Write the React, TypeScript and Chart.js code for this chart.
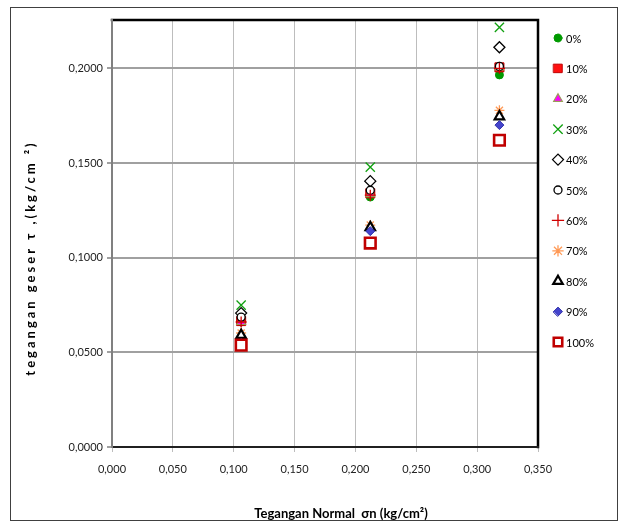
import React, { useEffect, useRef } from 'react';
import { Chart, registerables } from 'chart.js';
import { drawPoint } from 'chart.js/helpers';

Chart.register(...registerables);

// ---- data ----
const normalStress = [0.1061, 0.2122, 0.3183];
const seriesLabels = ['0%', '10%', '20%', '30%', '40%', '50%', '60%', '70%', '80%', '90%', '100%'];
const s0 = [0.0660, 0.1320, 0.1965];
const s10 = [0.0665, 0.1340, 0.2005];
const s20 = [0.0660, 0.1335, 0.2005];
const s30 = [0.0749, 0.1478, 0.2216];
const s40 = [0.0707, 0.1404, 0.2111];
const s50 = [0.0686, 0.1356, 0.2010];
const s60 = [0.0660, 0.1330, 0.2000];
const s70 = [0.0602, 0.1172, 0.1778];
const s80 = [0.0591, 0.1160, 0.1745];
const s90 = [0.0549, 0.1140, 0.1700];
const s100 = [0.0538, 0.1077, 0.1620];
const seriesValues = [s0, s10, s20, s30, s40, s50, s60, s70, s80, s90, s100];

const xMin = 0, xMax = 0.35, xStep = 0.05;
const yMin = 0, yMax = 0.2255, yStep = 0.05;

const yTitle = 'tegangan geser τ ,(kg/cm ²)';
const xTitle = 'Tegangan Normal  σn (kg/cm²)';

// ---- styles ----
const markerStyles = [
  { pointStyle: 'circle', radius: 4, bg: '#009a00', border: '#009a00', bw: 1 },
  { pointStyle: 'rect', radius: 6.4, bg: '#ff1010', border: '#c00000', bw: 1 },
  { pointStyle: 'triangle', radius: 5, bg: '#ff00ff', border: '#9b9b5a', bw: 1.2 },
  { pointStyle: 'crossRot', radius: 6.5, bg: 'rgba(0,0,0,0)', border: '#10a010', bw: 1.3 },
  { pointStyle: 'rectRot', radius: 5.5, bg: '#ffffff', border: '#000000', bw: 1.3 },
  { pointStyle: 'circle', radius: 4, bg: '#ffffff', border: '#000000', bw: 1.3 },
  { pointStyle: 'cross', radius: 5.5, bg: 'rgba(0,0,0,0)', border: '#d00000', bw: 1.3 },
  { pointStyle: 'star', radius: 5, bg: 'rgba(0,0,0,0)', border: '#ff9955', bw: 1.3 },
  { pointStyle: 'triangle', radius: 5.5, bg: '#ffffff', border: '#000000', bw: 2.2 },
  { pointStyle: 'rectRot', radius: 4.5, bg: '#4444cc', border: '#3333aa', bw: 1 },
  { pointStyle: 'rect', radius: 7.5, bg: '#ffffff', border: '#c00000', bw: 2.6 },
];

const FONT = 'Lato, "Liberation Sans", sans-serif';

const decorPlugin = {
  id: 'decor',
  afterDraw(chart: any) {
    const ctx = chart.ctx as CanvasRenderingContext2D;
    const a = chart.chartArea;
    ctx.save();
    // outer chart frame
    ctx.strokeStyle = '#404040';
    ctx.lineWidth = 1;
    ctx.strokeRect(10.5, 7.5, 607, 513);
    // plot frame
    ctx.lineCap = 'square';
    ctx.strokeStyle = '#000000';
    ctx.lineWidth = 2.5;
    ctx.beginPath();
    ctx.moveTo(a.left, a.top);
    ctx.lineTo(a.right, a.top);
    ctx.lineTo(a.right, a.bottom);
    ctx.stroke();
    ctx.lineWidth = 2;
    ctx.strokeStyle = '#202020';
    ctx.beginPath();
    ctx.moveTo(a.left, a.bottom);
    ctx.lineTo(a.right, a.bottom);
    ctx.stroke();
    ctx.strokeStyle = '#808080';
    ctx.beginPath();
    ctx.moveTo(a.left, a.top);
    ctx.lineTo(a.left, a.bottom);
    ctx.stroke();

    // axis titles
    ctx.fillStyle = '#000000';
    ctx.font = `bold 13px ${FONT}`;
    ctx.textAlign = 'center';
    ctx.textBaseline = 'middle';
    (ctx as any).letterSpacing = '0px';
    ctx.fillText(xTitle, 341, 514);
    ctx.save();
    ctx.translate(31, 258);
    ctx.rotate(-Math.PI / 2);
    (ctx as any).letterSpacing = '3px';
    ctx.fillText(yTitle, 0, 0);
    ctx.restore();
    (ctx as any).letterSpacing = '0px';

    // legend
    const lx = 558, ly0 = 38, dy = 30.4;
    ctx.font = `11px ${FONT}`;
    ctx.textAlign = 'left';
    seriesLabels.forEach((lab, i) => {
      const st = markerStyles[i];
      const y = ly0 + i * dy;
      ctx.fillStyle = st.bg;
      ctx.strokeStyle = st.border;
      ctx.lineWidth = st.bw;
      drawPoint(ctx, { pointStyle: st.pointStyle as any, radius: Math.min(st.radius, 6), rotation: 0, borderWidth: st.bw }, lx, y);
      ctx.fillStyle = '#000000';
      ctx.fillText(lab, lx + 8, y + 1);
    });
    ctx.restore();
  },
};

export default function App() {
  const ref = useRef<HTMLCanvasElement | null>(null);
  useEffect(() => {
    document.body.style.margin = '0';
    if (!ref.current) return;
    const datasets = seriesLabels.map((lab, i) => ({
      label: lab,
      data: normalStress.map((x, j) => ({ x, y: seriesValues[i][j] })),
      pointStyle: markerStyles[i].pointStyle as any,
      pointRadius: markerStyles[i].radius,
      pointBackgroundColor: markerStyles[i].bg,
      pointBorderColor: markerStyles[i].border,
      pointBorderWidth: markerStyles[i].bw,
      showLine: false,
      order: seriesLabels.length - i,
    }));
    const chart = new Chart(ref.current, {
      type: 'scatter',
      data: { datasets },
      options: {
        animation: false,
        responsive: false,
        maintainAspectRatio: false,
        layout: { padding: { left: 0, right: 87, top: 20, bottom: 0 } },
        plugins: { legend: { display: false }, tooltip: { enabled: false } },
        scales: {
          x: {
            type: 'linear',
            min: xMin,
            max: xMax,
            afterFit: (s: any) => { s.height = 77; },
            border: { display: false },
            grid: { color: '#bdbdbd', lineWidth: 1, tickLength: 5, drawTicks: true },
            ticks: {
              stepSize: xStep,
              includeBounds: false,
              padding: 11,
              color: '#222',
              font: { family: FONT, size: 11 },
              maxRotation: 0,
              callback: (v: any) => Number(v).toFixed(3).replace('.', ','),
            },
          },
          y: {
            type: 'linear',
            min: yMin,
            max: yMax,
            afterFit: (s: any) => { s.width = 112; },
            border: { display: false },
            grid: { color: '#a0a0a0', lineWidth: 2, tickLength: 5, drawTicks: true },
            ticks: {
              stepSize: yStep,
              includeBounds: false,
              padding: 4,
              color: '#222',
              font: { family: FONT, size: 11 },
              callback: (v: any) => Number(v).toFixed(4).replace('.', ','),
            },
          },
        },
      },
      plugins: [decorPlugin],
    });
    return () => chart.destroy();
  }, []);
  return (
    <div style={{ width: 625, height: 524, position: 'relative', background: '#fff' }}>
      <canvas ref={ref} width={625} height={524} style={{ display: 'block', width: 625, height: 524 }} />
    </div>
  );
}
